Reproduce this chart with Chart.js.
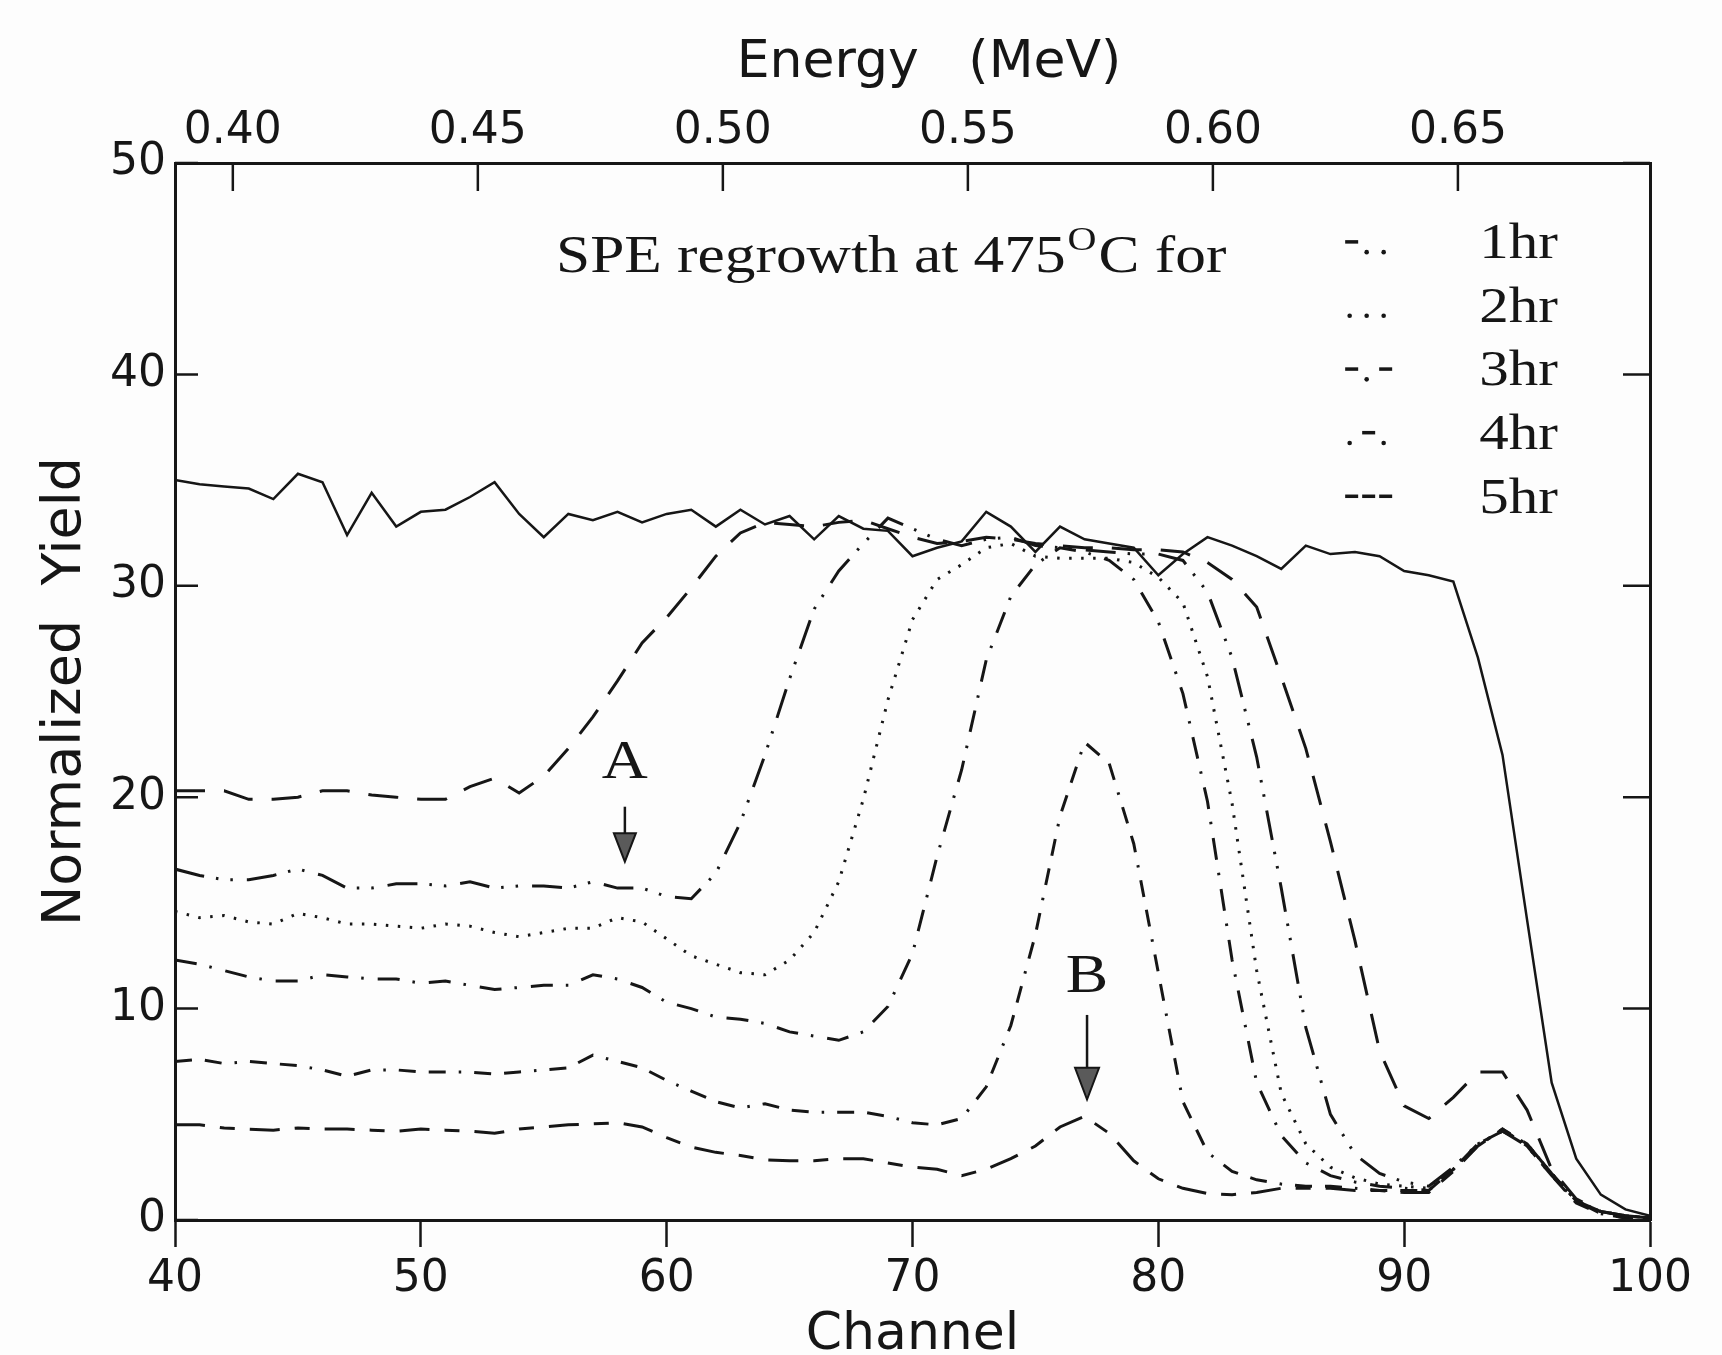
<!DOCTYPE html>
<html>
<head>
<meta charset="utf-8">
<title>SPE regrowth at 475 C</title>
<script src="https://cdn.jsdelivr.net/npm/chart.js@4.4.1/dist/chart.umd.min.js"></script>
<style>
  html, body { margin: 0; padding: 0; background: #fdfdfd; }
  #wrap { width: 1722px; height: 1355px; }
</style>
</head>
<body>
<div id="wrap"><canvas id="rbs-chart" width="1722" height="1355"></canvas></div>
<script>
// channel axis and tick values
var channels = [40, 41, 42, 43, 44, 45, 46, 47, 48, 49,
                50, 51, 52, 53, 54, 55, 56, 57, 58, 59,
                60, 61, 62, 63, 64, 65, 66, 67, 68, 69,
                70, 71, 72, 73, 74, 75, 76, 77, 78, 79,
                80, 81, 82, 83, 84, 85, 86, 87, 88, 89,
                90, 91, 92, 93, 94, 95, 96, 97, 98, 99, 100];
var channelTicks = [40, 50, 60, 70, 80, 90, 100];
var yieldTicks = [0, 10, 20, 30, 40, 50];
var energyTicks = [0.40, 0.45, 0.50, 0.55, 0.60, 0.65];
var energyAtEnds = [0.3882, 0.6892]; // MeV at channel 40 and channel 100

// solid line (no legend entry)
var solidYield = [35.0, 34.8, 34.7, 34.6, 34.1, 35.3, 34.9, 32.4, 34.4, 32.8,
                  33.5, 33.6, 34.2, 34.9, 33.4, 32.3, 33.4, 33.1, 33.5, 33.0,
                  33.4, 33.6, 32.8, 33.6, 32.9, 33.3, 32.2, 33.3, 32.7, 32.6,
                  31.4, 31.8, 32.1, 33.5, 32.8, 31.6, 32.8, 32.2, 32.0, 31.8,
                  30.5, 31.5, 32.3, 31.9, 31.4, 30.8, 31.9, 31.5, 31.6, 31.4,
                  30.7, 30.5, 30.2, 26.6, 22.0, 14.2, 6.5, 2.9, 1.2, 0.5, 0.2];
// long dashed line starting near 20 (no legend entry)
var longDashYield = [20.3, 20.3, 20.3, 19.9, 19.9, 20.0, 20.3, 20.3, 20.1, 20.0,
                     19.9, 19.9, 20.5, 20.9, 20.2, 21.0, 22.3, 23.8, 25.5, 27.3,
                     28.5, 29.9, 31.4, 32.5, 33.0, 32.9, 32.8, 33.0, 33.1, 32.7,
                     32.3, 32.0, 32.1, 32.3, 32.2, 32.0, 31.9, 31.8, 31.8, 31.7,
                     31.7, 31.6, 31.1, 30.3, 29.0, 25.7, 22.3, 17.9, 13.2, 8.0,
                     5.4, 4.8, 5.8, 7.0, 7.0, 5.2, 2.4, 1.0, 0.4, 0.2, 0.1];
var yield1hr = [16.6, 16.3, 16.1, 16.1, 16.3, 16.6, 16.3, 15.7, 15.7, 15.9,
                15.9, 15.8, 16.0, 15.7, 15.8, 15.8, 15.7, 16.0, 15.7, 15.7,
                15.3, 15.2, 16.4, 18.8, 22.0, 25.6, 28.9, 30.7, 32.0, 33.2,
                32.7, 32.2, 31.9, 32.2, 32.3, 31.9, 31.8, 31.7, 31.6, 31.5,
                31.5, 31.2, 29.7, 26.6, 21.9, 15.7, 9.1, 5.0, 3.1, 2.2,
                1.8, 1.6, 2.5, 3.6, 4.2, 3.6, 2.2, 0.9, 0.4, 0.2, 0.1];
var yield2hr = [14.6, 14.3, 14.4, 14.1, 14.0, 14.5, 14.3, 14.0, 14.0, 13.9,
                13.8, 14.0, 13.9, 13.6, 13.4, 13.6, 13.8, 13.8, 14.3, 14.1,
                13.3, 12.5, 12.1, 11.7, 11.6, 12.3, 13.6, 16.0, 19.9, 24.6,
                28.4, 30.3, 31.0, 31.8, 32.0, 31.4, 31.3, 31.3, 31.3, 31.1,
                30.4, 29.2, 25.7, 19.7, 11.8, 6.0, 3.6, 2.5, 2.0, 1.7,
                1.6, 1.5, 2.4, 3.6, 4.2, 3.6, 2.2, 0.9, 0.4, 0.2, 0.1];
var yield3hr = [12.3, 12.1, 11.8, 11.5, 11.3, 11.3, 11.6, 11.5, 11.4, 11.4,
                11.2, 11.3, 11.1, 10.9, 11.0, 11.1, 11.1, 11.6, 11.4, 11.0,
                10.3, 10.0, 9.6, 9.5, 9.3, 8.9, 8.7, 8.5, 8.9, 10.1,
                12.6, 17.2, 21.3, 26.5, 29.5, 31.0, 31.8, 31.6, 31.2, 30.3,
                28.3, 24.9, 19.8, 12.3, 6.5, 4.0, 2.7, 2.1, 1.8, 1.6,
                1.5, 1.4, 2.4, 3.6, 4.2, 3.5, 2.1, 0.9, 0.4, 0.2, 0.1];
var yield4hr = [7.5, 7.6, 7.4, 7.5, 7.4, 7.3, 7.1, 6.8, 7.1, 7.1,
                7.0, 7.0, 7.0, 6.9, 7.0, 7.1, 7.2, 7.8, 7.5, 7.2,
                6.6, 6.1, 5.6, 5.3, 5.5, 5.2, 5.1, 5.1, 5.1, 4.9,
                4.6, 4.5, 4.8, 6.3, 9.2, 13.5, 19.1, 22.6, 21.6, 17.8,
                11.7, 5.6, 3.2, 2.3, 1.9, 1.7, 1.6, 1.6, 1.5, 1.4,
                1.4, 1.4, 2.4, 3.5, 4.3, 3.5, 2.1, 0.8, 0.3, 0.1, 0.1];
var yield5hr = [4.5, 4.5, 4.35, 4.3, 4.25, 4.35, 4.3, 4.3, 4.25, 4.2,
                4.3, 4.25, 4.2, 4.1, 4.3, 4.4, 4.5, 4.55, 4.6, 4.4,
                3.9, 3.45, 3.2, 3.05, 2.85, 2.8, 2.8, 2.9, 2.9, 2.7,
                2.5, 2.4, 2.1, 2.4, 2.9, 3.5, 4.4, 4.9, 4.1, 2.8,
                1.95, 1.5, 1.25, 1.2, 1.3, 1.5, 1.5, 1.5, 1.4, 1.4,
                1.3, 1.3, 2.3, 3.5, 4.3, 3.6, 2.2, 0.9, 0.3, 0.1, 0.1];

var legendLabels = ['1hr', '2hr', '3hr', '4hr', '5hr'];
var legendMarks = ['-..', '...', '-.-', '.-.', '---'];

var INK = '#161616';
var SANS = "'DejaVu Sans', 'Noto Sans', sans-serif";
var SERIF = "'Liberation Serif', 'Times New Roman', serif";
var SERIF_STRETCH = 1.18;

function series(values) {
  return values.map(function (v, i) { return { x: channels[i], y: v }; });
}

function fixedTicks(list) {
  return function (scale) {
    scale.ticks = list.map(function (v) { return { value: v }; });
  };
}

// serif text, a little wider than the font, like the scanned figure
function serifText(ctx, text, x, y, size, align) {
  ctx.save();
  ctx.font = size + 'px ' + SERIF;
  ctx.fillStyle = INK;
  ctx.textAlign = align || 'left';
  ctx.textBaseline = 'alphabetic';
  ctx.translate(x, y);
  ctx.scale(SERIF_STRETCH, 1);
  ctx.fillText(text, 0, 0);
  var w = ctx.measureText(text).width * SERIF_STRETCH;
  ctx.restore();
  return w;
}

function arrowDown(ctx, x, yTop, yHead, yTip, half) {
  ctx.save();
  ctx.strokeStyle = INK;
  ctx.lineWidth = 2.5;
  ctx.beginPath();
  ctx.moveTo(x, yTop);
  ctx.lineTo(x, yHead);
  ctx.stroke();
  ctx.beginPath();
  ctx.moveTo(x - half, yHead);
  ctx.lineTo(x + half, yHead);
  ctx.lineTo(x, yTip);
  ctx.closePath();
  ctx.fillStyle = '#5a5a5a';
  ctx.fill();
  ctx.lineWidth = 2;
  ctx.stroke();
  ctx.restore();
}

var decorPlugin = {
  id: 'decor',
  beforeDraw: function (chart) {
    var ctx = chart.ctx;
    ctx.save();
    ctx.fillStyle = '#fdfdfd';
    ctx.fillRect(0, 0, chart.width, chart.height);
    ctx.restore();
  },
  afterDatasetsDraw: function (chart) {
    var ctx = chart.ctx;
    var area = chart.chartArea;
    var xs = chart.scales.x, ys = chart.scales.y, es = chart.scales.x2;

    // tick marks pointing into the frame: left, right and top
    ctx.save();
    ctx.strokeStyle = INK;
    ctx.lineWidth = 2.5;
    ys.ticks.forEach(function (t) {
      var p = ys.getPixelForValue(t.value);
      ctx.beginPath();
      ctx.moveTo(area.left, p); ctx.lineTo(area.left + 23, p);
      ctx.moveTo(area.right, p); ctx.lineTo(area.right - 27, p);
      ctx.stroke();
    });
    es.ticks.forEach(function (t) {
      var p = es.getPixelForValue(t.value);
      ctx.beginPath();
      ctx.moveTo(p, area.top); ctx.lineTo(p, area.top + 28);
      ctx.stroke();
    });
    ctx.restore();

    // caption
    var cx = xs.getPixelForValue(55.5);
    var cy = ys.getPixelForValue(44.85);
    cx += serifText(ctx, 'SPE regrowth at 475', cx, cy, 52);
    cx += 2 + serifText(ctx, 'O', cx + 2, cy - 22, 34);
    serifText(ctx, 'C for', cx + 2, cy, 52);

    // legend: line marks and labels
    var markX = xs.getPixelForValue(87.6);
    var labelX = xs.getPixelForValue(96.25);
    var base = ys.getPixelForValue(45.5);
    ctx.save();
    ctx.fillStyle = INK;
    legendLabels.forEach(function (label, i) {
      var b = base + i * 63.6;
      var marks = legendMarks[i];
      for (var k = 0; k < marks.length; k++) {
        var sx = markX + k * 17;
        if (marks[k] === '-') {
          ctx.fillRect(sx, b - 18, 13, 3.5);
        } else {
          ctx.beginPath();
          ctx.arc(sx + 4.5, b - 6, 2.3, 0, Math.PI * 2);
          ctx.fill();
        }
      }
      serifText(ctx, label, labelX, b, 50, 'right');
    });
    ctx.restore();

    // markers A and B
    var ax = xs.getPixelForValue(58.3);
    serifText(ctx, 'A', ax, ys.getPixelForValue(20.9), 54, 'center');
    arrowDown(ctx, ax, ys.getPixelForValue(19.55), ys.getPixelForValue(18.3), ys.getPixelForValue(16.95), 11);
    var bx = xs.getPixelForValue(77.1);
    serifText(ctx, 'B', bx, ys.getPixelForValue(10.8), 54, 'center');
    arrowDown(ctx, bx, ys.getPixelForValue(9.7), ys.getPixelForValue(7.2), ys.getPixelForValue(5.7), 12);
  }
};

var lineBase = { borderColor: INK, borderWidth: 3, pointRadius: 0, fill: false, tension: 0 };

function line(label, values, dash, width) {
  return Object.assign({}, lineBase, {
    label: label,
    data: series(values),
    borderDash: dash,
    borderWidth: width || 3
  });
}

var chart = new Chart(document.getElementById('rbs-chart'), {
  type: 'line',
  data: {
    datasets: [
      line('solid', solidYield, [], 2.5),
      line('long dash', longDashYield, [30, 19]),
      line('1hr', yield1hr, [30, 12, 2.5, 12, 2.5, 14]),
      line('2hr', yield2hr, [2.5, 9.5]),
      line('3hr', yield3hr, [22, 13, 2.5, 14]),
      line('4hr', yield4hr, [17, 13, 17, 13, 2.5, 13]),
      line('5hr', yield5hr, [30, 15, 15, 15])
    ]
  },
  options: {
    responsive: false,
    animation: false,
    devicePixelRatio: 1,
    layout: { padding: 0 },
    plugins: { legend: { display: false }, tooltip: { enabled: false } },
    scales: {
      x: {
        type: 'linear', position: 'bottom', min: 40, max: 100,
        afterBuildTicks: fixedTicks(channelTicks),
        afterFit: function (s) { s.height = 135; },
        grid: { drawOnChartArea: false, drawTicks: true, tickLength: 27, tickWidth: 2.5, tickColor: INK },
        border: { display: true, color: INK, width: 3 },
        ticks: { color: INK, font: { family: SANS, size: 44 }, padding: 6, maxRotation: 0, autoSkip: false },
        title: { display: true, text: 'Channel', color: INK,
                 font: { family: SANS, size: 52, lineHeight: 1 }, padding: { top: 0, bottom: -6 } }
      },
      x2: {
        type: 'linear', position: 'top', min: energyAtEnds[0], max: energyAtEnds[1],
        afterBuildTicks: fixedTicks(energyTicks),
        afterFit: function (s) { s.height = 163; },
        grid: { drawOnChartArea: false, drawTicks: false },
        border: { display: true, color: INK, width: 3 },
        ticks: { color: INK, font: { family: SANS, size: 44 }, padding: 5, maxRotation: 0, autoSkip: false,
                 callback: function (v) { return v.toFixed(2); } },
        title: { display: true, text: '  Energy   (MeV)', color: INK,
                 font: { family: SANS, size: 52, lineHeight: 1 }, padding: { top: 37, bottom: 0 } }
      },
      y: {
        type: 'linear', position: 'left', min: 0, max: 50,
        afterBuildTicks: fixedTicks(yieldTicks),
        afterFit: function (s) { s.width = 175; },
        grid: { drawOnChartArea: false, drawTicks: false },
        border: { display: true, color: INK, width: 3 },
        ticks: { color: INK, font: { family: SANS, size: 44 }, padding: 9 },
        title: { display: true, text: 'Normalized  Yield', color: INK,
                 font: { family: SANS, size: 54, lineHeight: 1 }, padding: { top: 39, bottom: 0 } }
      },
      y2: {
        type: 'linear', position: 'right', min: 0, max: 50,
        afterBuildTicks: fixedTicks(yieldTicks),
        afterFit: function (s) { s.width = 72; },
        grid: { drawOnChartArea: false, drawTicks: false },
        border: { display: true, color: INK, width: 3 },
        ticks: { display: false }
      }
    }
  },
  plugins: [decorPlugin]
});
</script>
</body>
</html>
